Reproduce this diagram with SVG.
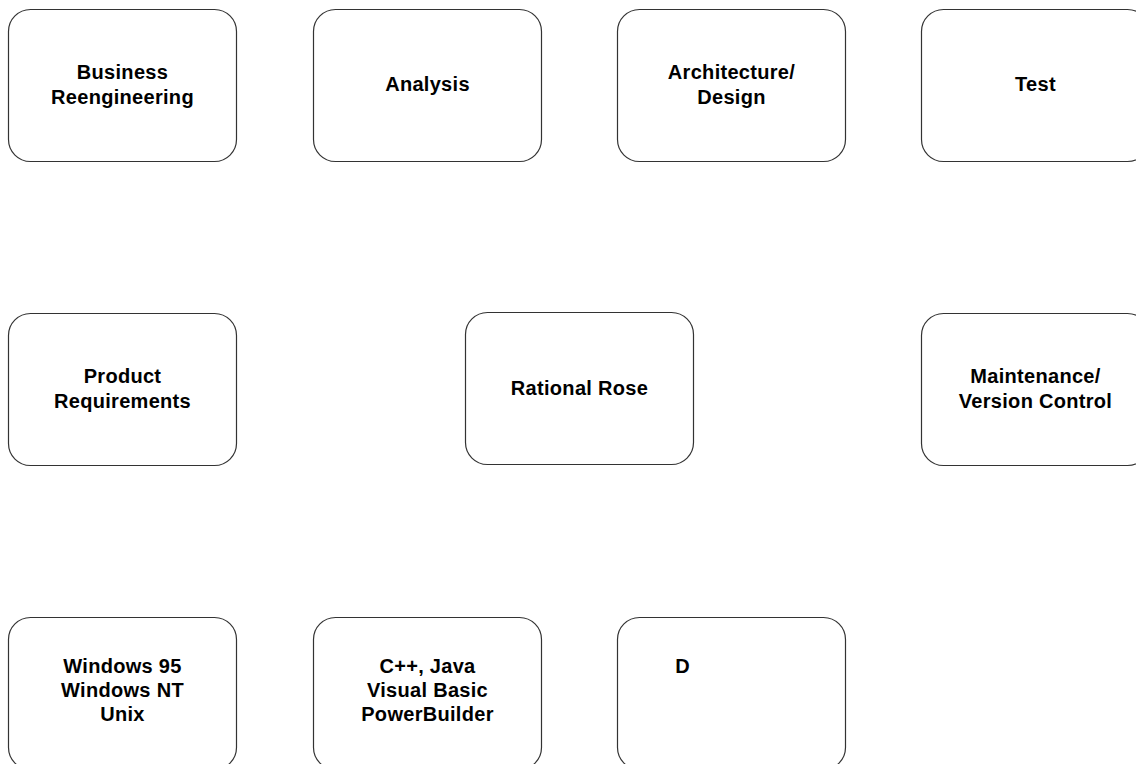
<svg xmlns="http://www.w3.org/2000/svg" width="1136" height="764" viewBox="0 0 1136 764">
<style>
.box{fill:#ffffff;stroke:#333333;stroke-width:1.2}
.lbl{font-family:"Liberation Sans",Arial,sans-serif;font-weight:bold;font-size:20px;letter-spacing:0.3px;fill:#000000;text-anchor:middle}
</style>
<rect x="0" y="0" width="1136" height="764" fill="#ffffff"/>
<g id="connectors"></g>
<g id="business-reengineering">
<rect class="box" x="8.5" y="9.5" width="228" height="152" rx="22" ry="22"/>
<text class="lbl" x="122.5" y="79">Business</text>
<text class="lbl" x="122.5" y="104">Reengineering</text>
</g>
<g id="analysis">
<rect class="box" x="313.5" y="9.5" width="228" height="152" rx="22" ry="22"/>
<text class="lbl" x="427.5" y="91">Analysis</text>
</g>
<g id="architecture-design">
<rect class="box" x="617.5" y="9.5" width="228" height="152" rx="22" ry="22"/>
<text class="lbl" x="731.5" y="79">Architecture/</text>
<text class="lbl" x="731.5" y="104">Design</text>
</g>
<g id="test">
<rect class="box" x="921.5" y="9.5" width="228" height="152" rx="22" ry="22"/>
<text class="lbl" x="1035.5" y="91">Test</text>
</g>
<g id="product-requirements">
<rect class="box" x="8.5" y="313.5" width="228" height="152" rx="22" ry="22"/>
<text class="lbl" x="122.5" y="383">Product</text>
<text class="lbl" x="122.5" y="408">Requirements</text>
</g>
<g id="rational-rose">
<rect class="box" x="465.5" y="312.5" width="228" height="152" rx="22" ry="22"/>
<text class="lbl" x="579.5" y="395">Rational Rose</text>
</g>
<g id="maintenance-version-control">
<rect class="box" x="921.5" y="313.5" width="228" height="152" rx="22" ry="22"/>
<text class="lbl" x="1035.5" y="383">Maintenance/</text>
<text class="lbl" x="1035.5" y="408">Version Control</text>
</g>
<g id="platforms">
<rect class="box" x="8.5" y="617.5" width="228" height="152" rx="22" ry="22"/>
<text class="lbl" x="122.5" y="673">Windows 95</text>
<text class="lbl" x="122.5" y="697">Windows NT</text>
<text class="lbl" x="122.5" y="721">Unix</text>
</g>
<g id="languages">
<rect class="box" x="313.5" y="617.5" width="228" height="152" rx="22" ry="22"/>
<text class="lbl" x="427.5" y="673">C++, Java</text>
<text class="lbl" x="427.5" y="697">Visual Basic</text>
<text class="lbl" x="427.5" y="721">PowerBuilder</text>
</g>
<g id="d">
<rect class="box" x="617.5" y="617.5" width="228" height="152" rx="22" ry="22"/>
<text class="lbl" x="682.5" y="673">D</text>
</g>
</svg>
